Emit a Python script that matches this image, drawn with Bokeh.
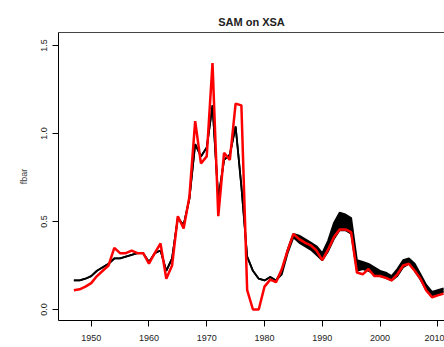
from bokeh.plotting import figure
from bokeh.models import Range1d, LinearAxis, FixedTicker
from bokeh.embed import file_html
from bokeh.resources import INLINE

# ---- data ----
years = list(range(1947, 2012))
red_fbar = [0.11, 0.115, 0.13, 0.15, 0.19, 0.22, 0.25, 0.35, 0.32, 0.32,
            0.335, 0.32, 0.32, 0.26, 0.32, 0.375, 0.175, 0.25, 0.53, 0.46,
            0.64, 1.07, 0.83, 0.87, 1.40, 0.53, 0.89, 0.85, 1.17, 1.16,
            0.11, 0.0, 0.0, 0.13, 0.17, 0.155, 0.23, 0.335, 0.43, 0.40,
            0.38, 0.365, 0.335, 0.28, 0.34, 0.41, 0.455, 0.455, 0.44, 0.21,
            0.20, 0.23, 0.19, 0.19, 0.18, 0.165, 0.20, 0.25, 0.26, 0.22,
            0.175, 0.108, 0.07, 0.08, 0.09]
early_years = list(range(1947, 1983))
black_early = [0.165, 0.165, 0.175, 0.19, 0.22, 0.24, 0.26, 0.29, 0.29, 0.30,
               0.31, 0.32, 0.32, 0.27, 0.32, 0.335, 0.22, 0.29, 0.52, 0.48,
               0.63, 0.94, 0.87, 0.92, 1.16, 0.63, 0.85, 0.88, 1.04, 0.70,
               0.30, 0.22, 0.175, 0.165, 0.185, 0.165]
band_years = list(range(1983, 2012))
black_lo = [0.20, 0.32, 0.41, 0.38, 0.36, 0.34, 0.31, 0.28, 0.33, 0.40,
            0.45, 0.45, 0.43, 0.22, 0.23, 0.22, 0.20, 0.19, 0.18, 0.165,
            0.19, 0.24, 0.26, 0.22, 0.17, 0.11, 0.08, 0.09, 0.10]
black_hi = [0.22, 0.34, 0.43, 0.42, 0.40, 0.38, 0.36, 0.32, 0.39, 0.49,
            0.55, 0.54, 0.52, 0.28, 0.27, 0.26, 0.24, 0.22, 0.21, 0.19,
            0.23, 0.28, 0.29, 0.26, 0.20, 0.14, 0.10, 0.11, 0.12]
x_ticks = [1950, 1960, 1970, 1980, 1990, 2000, 2010]
y_ticks = [0.0, 0.5, 1.0, 1.5]
y_tick_labels = {0.0: "0.0", 0.5: "0.5", 1.0: "1.0", 1.5: "1.5"}

FONT = "Liberation Sans"

p = figure(width=444, height=347, output_backend="svg", toolbar_location=None,
           x_range=Range1d(1944.34, 2011.16), y_range=Range1d(-0.0625, 1.574),
           min_border_left=58, min_border_right=0, min_border_top=32,
           min_border_bottom=27)
p.outline_line_color = None
p.xgrid.visible = False
p.ygrid.visible = False
p.background_fill_color = "white"
p.border_fill_color = "white"

p.title.text = "SAM on XSA"
p.title.align = "center"
p.title.text_font = FONT
p.title.text_font_size = "11px"
p.title.text_font_style = "bold"
p.title.text_color = "#222222"

# black runs
p.varea(x=band_years, y1=black_lo, y2=black_hi, fill_color="black")
p.line(early_years + band_years, black_early + black_lo, line_color="black", line_width=1.8)
p.line(early_years + band_years, black_early + black_hi, line_color="black", line_width=1.8)
# red run
p.line(years, red_fbar, line_color="red", line_width=2.5)

for ax in (p.xaxis[0], p.yaxis[0]):
    ax.axis_line_color = "black"
    ax.major_tick_line_color = "black"
    ax.major_tick_in = 0
    ax.major_tick_out = 6
    ax.minor_tick_line_color = None
    ax.major_label_text_font = FONT
    ax.major_label_text_font_size = "9px"
    ax.major_label_text_color = "#222222"

p.xaxis[0].ticker = FixedTicker(ticks=x_ticks)
p.xaxis[0].major_label_standoff = 8
p.yaxis[0].ticker = FixedTicker(ticks=y_ticks)
p.yaxis[0].major_label_overrides = y_tick_labels
p.yaxis[0].major_label_orientation = "vertical"
p.yaxis[0].axis_label = "fbar"
p.yaxis[0].axis_label_text_font = FONT
p.yaxis[0].axis_label_text_font_size = "9px"
p.yaxis[0].axis_label_text_font_style = "normal"
p.yaxis[0].axis_label_standoff = 10

# top side of the box; its (empty) tick space lifts the title
top = LinearAxis(ticker=FixedTicker(ticks=[]), major_tick_in=0, major_tick_out=5,
                 major_label_standoff=0, major_label_text_font_size="0px",
                 axis_line_color="#444444", minor_tick_line_color=None)
p.add_layout(top, "above")

open("out.html", "w").write(file_html(p, INLINE))
